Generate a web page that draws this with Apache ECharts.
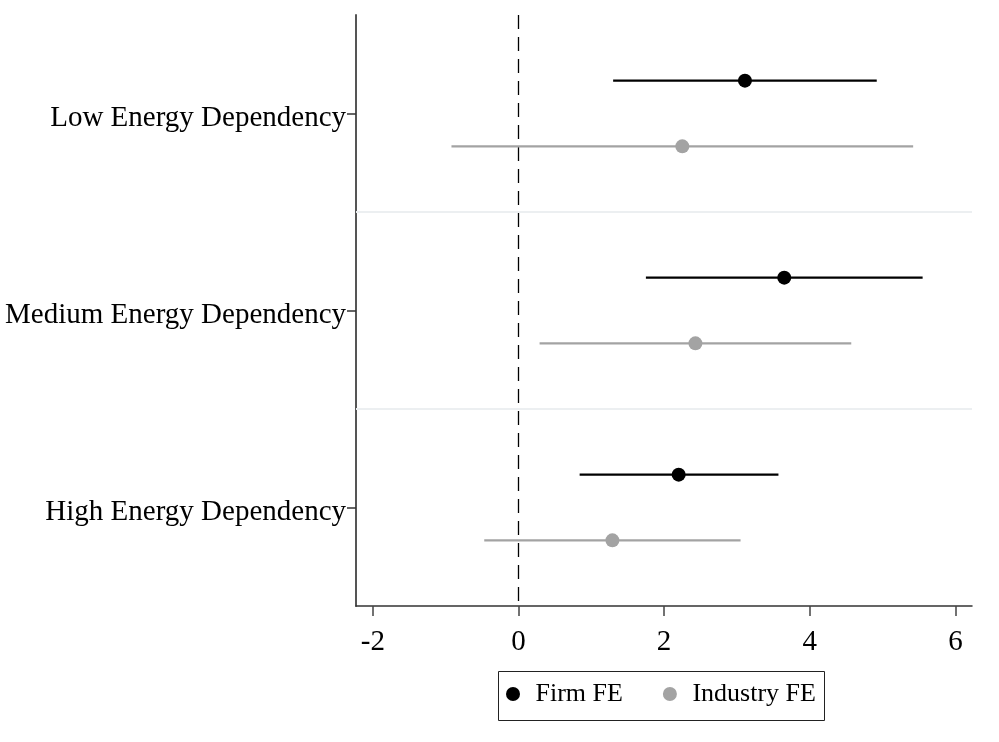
<!DOCTYPE html>
<html>
<head>
<meta charset="utf-8">
<script src="https://cdn.jsdelivr.net/npm/echarts@6/dist/echarts.min.js"></script>
<style>
  html, body { margin: 0; padding: 0; background: #fff; }
  #chart { width: 999px; height: 742px; }
</style>
</head>
<body>
<div id="chart"></div>
<script>
// Groups (top to bottom) and coefficient estimates with confidence bounds
const groups = ['Low Energy Dependency', 'Medium Energy Dependency', 'High Energy Dependency'];
const seriesNames = ['Firm FE', 'Industry FE'];
const firmEst = [3.11, 3.65, 2.20];
const firmLo  = [1.30, 1.75, 0.84];
const firmHi  = [4.92, 5.55, 3.57];
const indEst  = [2.25, 2.43, 1.29];
const indLo   = [-0.92, 0.29, -0.47];
const indHi   = [5.42, 4.57, 3.05];
const xTicks  = [-2, 0, 2, 4, 6];

const FONT = '"Liberation Serif", "Times New Roman", serif';
const BLACK = '#000000';
const GREY = '#a3a3a3';

// Each group occupies 3 units on the hidden row axis: firm at +1, industry at +2
const rowsPerGroup = 3;

function ciSeries(lo, hi, offset, color, width) {
  return {
    type: 'custom',
    xAxisIndex: 0,
    yAxisIndex: 1,
    silent: true,
    z: 2,
    data: lo.map((l, i) => [l, hi[i], rowsPerGroup * i + offset]),
    encode: { x: [0, 1], y: 2 },
    renderItem(params, api) {
      const a = api.coord([api.value(0), api.value(2)]);
      const b = api.coord([api.value(1), api.value(2)]);
      return {
        type: 'line',
        shape: { x1: a[0], y1: a[1], x2: b[0], y2: b[1] },
        style: { stroke: color, lineWidth: width }
      };
    }
  };
}

function pointSeries(name, est, offset, color, extra) {
  return Object.assign({
    type: 'scatter',
    name: name,
    xAxisIndex: 0,
    yAxisIndex: 1,
    symbol: 'circle',
    symbolSize: 14,
    z: 3,
    silent: true,
    itemStyle: { color: color, opacity: 1 },
    data: est.map((v, i) => [v, rowsPerGroup * i + offset])
  }, extra || {});
}

const chart = echarts.init(document.getElementById('chart'), null, { renderer: 'canvas' });

chart.setOption({
  backgroundColor: '#ffffff',
  animation: false,
  grid: { left: 356, right: 27, top: 15, bottom: 136, containLabel: false },
  xAxis: {
    type: 'value',
    min: -2.231,
    max: 6.228,
    splitLine: { show: false },
    axisLine: { show: true, onZero: false, lineStyle: { color: '#333', width: 1.5 } },
    axisTick: { show: true, customValues: xTicks, length: 10, lineStyle: { color: '#444', width: 1.5 } },
    axisLabel: { customValues: xTicks, fontFamily: FONT, fontSize: 29, color: BLACK, margin: 22 }
  },
  yAxis: [
    {
      type: 'category',
      data: groups,
      inverse: true,
      boundaryGap: true,
      axisLine: { show: true, onZero: false, lineStyle: { color: '#555', width: 2 } },
      axisTick: { show: true, alignWithLabel: true, length: 9, lineStyle: { color: '#333', width: 1.5 } },
      axisLabel: {
        margin: 10,
        formatter: v => '{g|' + v + '}',
        rich: {
          g: { fontFamily: FONT, fontSize: 29, color: BLACK, padding: [10, 0, 0, 0] }
        }
      },
      splitLine: { show: false }
    },
    {
      type: 'value',
      min: 0,
      max: rowsPerGroup * groups.length,
      inverse: true,
      show: false,
      splitLine: { show: false }
    }
  ],
  legend: {
    data: seriesNames.map(n => ({ name: n, icon: 'circle' })),
    left: 506,
    top: 670,
    orient: 'horizontal',
    itemWidth: 35,
    itemHeight: 14,
    itemGap: 40,
    padding: [11, 0, 11, 0],
    borderWidth: 0,
    selectedMode: false,
    textStyle: { fontFamily: FONT, fontSize: 26, color: BLACK }
  },
  // legend frame
  graphic: [{
    type: 'rect',
    left: 496,
    top: 669,
    silent: true,
    shape: { width: 326, height: 49 },
    style: { fill: 'none', stroke: '#222', lineWidth: 1 }
  }],
  series: [
    ciSeries(firmLo, firmHi, 1, BLACK, 2.4),
    ciSeries(indLo, indHi, 2, GREY, 2.2),
    pointSeries(seriesNames[0], firmEst, 1, BLACK, {
      markLine: {
        silent: true,
        symbol: 'none',
        label: { show: false },
        z: 1,
        data: [
          { xAxis: 0, lineStyle: { color: BLACK, width: 1.3, type: [14, 8] } },
          { yAxis: 3, lineStyle: { color: '#eceff1', width: 2, type: 'solid' } },
          { yAxis: 6, lineStyle: { color: '#eceff1', width: 2, type: 'solid' } }
        ]
      }
    }),
    pointSeries(seriesNames[1], indEst, 2, GREY)
  ]
});
</script>
</body>
</html>
